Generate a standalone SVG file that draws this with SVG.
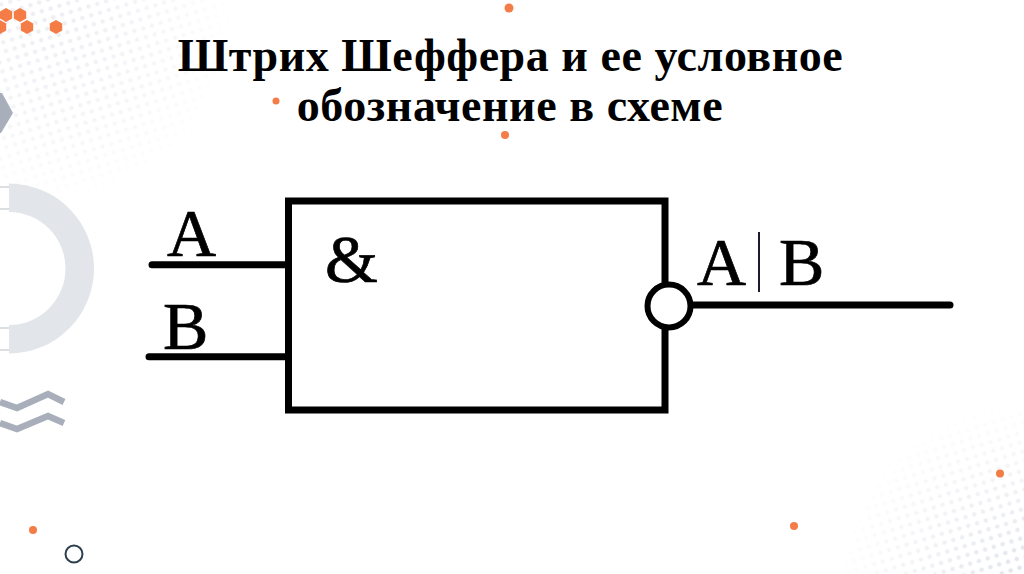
<svg xmlns="http://www.w3.org/2000/svg" width="1024" height="574" viewBox="0 0 1024 574">
<style>
.t{font-family:"Liberation Serif","Times New Roman",serif;fill:#000}
.title{font-size:46px;font-weight:bold;text-anchor:middle;letter-spacing:.55px}
.lbl{font-size:68px;stroke:#000;stroke-width:.7px}
.w{fill:none;stroke:#000;stroke-width:7}
.o{fill:#f47c47}
.g{fill:none;stroke:#a9aebb;stroke-width:6.500}
.tick{stroke:#b9bdc6;stroke-width:1}
</style>
<defs>
<pattern id="dots" width="13" height="13" patternUnits="userSpaceOnUse" patternTransform="rotate(28)">
<circle cx="3.200" cy="3.200" r="2.200" fill="#ccd2de"/><circle cx="9.700" cy="9.700" r="2.200" fill="#ccd2de"/>
</pattern>
<radialGradient id="fa" gradientUnits="userSpaceOnUse" cx="50" cy="20" r="185">
<stop offset="0" stop-color="#fff" stop-opacity=".4"/><stop offset=".6" stop-color="#fff" stop-opacity=".2"/><stop offset="1" stop-color="#fff" stop-opacity="0"/>
</radialGradient>
<radialGradient id="fb" gradientUnits="userSpaceOnUse" cx="1024" cy="590" r="190">
<stop offset="0" stop-color="#fff" stop-opacity=".65"/><stop offset=".6" stop-color="#fff" stop-opacity=".25"/><stop offset="1" stop-color="#fff" stop-opacity="0"/>
</radialGradient>
<mask id="ma"><rect width="1024" height="574" fill="url(#fa)"/></mask>
<mask id="mb"><rect width="1024" height="574" fill="url(#fb)"/></mask>
<polygon id="hex" points="0,-7 6.200,-3.500 6.200,3.500 0,7 -6.200,3.500 -6.200,-3.500"/>
</defs>
<rect width="1024" height="574" fill="#fff"/>
<g id="background">
<rect width="240" height="210" fill="url(#dots)" mask="url(#ma)"/>
<rect x="810" y="400" width="214" height="174" fill="url(#dots)" mask="url(#mb)"/>
<use href="#hex" x="6" y="15" class="o"/><use href="#hex" x="20" y="15" class="o"/><use href="#hex" x="0" y="27" class="o"/><use href="#hex" x="27" y="27" class="o"/><use href="#hex" x="56" y="27" class="o"/>
<polygon points="2,93 13,113 1,133 0,133 0,93" fill="#a9aebb"/>
<path d="M9 183.500A85 85 0 0 1 9 353.500V325A56.500 56.500 0 0 0 9 212Z" fill="#e2e5ea"/>
<path class="tick" d="M0 187H9M0 209H9M0 328H9M0 350H9"/>
<path class="g" d="M0 402L17 408L48 394L64 402"/>
<path class="g" d="M0 423L17 429L48 416L64 423"/>
<circle cx="509" cy="8" r="4.500" class="o"/><circle cx="276" cy="101" r="3.500" class="o"/><circle cx="505" cy="135" r="4" class="o"/><circle cx="1000" cy="473.500" r="4" class="o"/><circle cx="794" cy="526" r="4" class="o"/><circle cx="33" cy="530" r="4" class="o"/>
<circle cx="74" cy="554" r="8.500" fill="none" stroke="#2d3e50" stroke-width="2"/>
</g>
<g id="title">
<text class="t title" x="510.500" y="71">Штрих Шеффера и ее условное</text>
<text class="t title" x="510" y="121">обозначение в схеме</text>
</g>
<g id="connectors">
<path class="w" stroke-linecap="round" d="M152 264.700H288"/>
<path class="w" stroke-linecap="round" d="M149 356.700H288"/>
<path class="w" stroke-linecap="round" d="M692 305H950"/>
</g>
<g id="gate">
<rect class="w" x="288.500" y="201" width="376.500" height="209"/>
<text class="t lbl" x="325" y="282">&amp;</text>
</g>
<g id="inverter"><circle cx="669" cy="306" r="21.500" fill="#fff" stroke="#000" stroke-width="6"/></g>
<g id="labels">
<text class="t lbl" x="167" y="256">A</text>
<text class="t lbl" x="163" y="349">B</text>
<text class="t lbl" x="697" y="285">A</text>
<rect x="758" y="232" width="2" height="60" fill="#1a1a33"/>
<text class="t lbl" x="779" y="285">B</text>
</g>
</svg>
